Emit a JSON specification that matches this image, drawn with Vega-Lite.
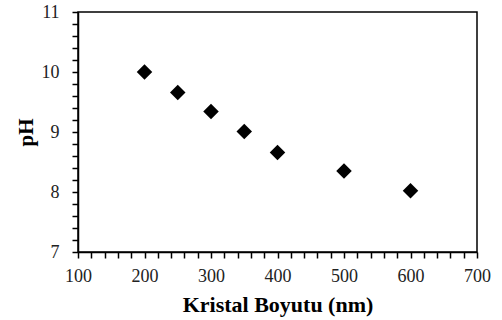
{
  "$schema": "https://vega.github.io/schema/vega-lite/v6.json",
  "width": 399,
  "height": 240,
  "autosize": {"type": "none"},
  "padding": {"left": 78, "top": 12, "right": 25, "bottom": 68},
  "background": "white",
  "config": {
    "view": {"stroke": "black", "strokeWidth": 1.5},
    "font": "Liberation Serif",
    "axis": {
      "grid": false,
      "domainColor": "black",
      "domainWidth": 1.5,
      "tickColor": "black",
      "tickWidth": 1.5,
      "tickSize": 6,
      "labelFont": "Liberation Serif",
      "labelFontSize": 18,
      "labelColor": "#222",
      "labelFlush": false,
      "labelOverlap": false,
      "titleFont": "Liberation Serif",
      "titleFontWeight": "bold",
      "titleColor": "black"
    }
  },
  "data": {
    "values": [
      {"size": 200, "pH": 10.0},
      {"size": 250, "pH": 9.66},
      {"size": 300, "pH": 9.34},
      {"size": 350, "pH": 9.01},
      {"size": 400, "pH": 8.66},
      {"size": 500, "pH": 8.35},
      {"size": 600, "pH": 8.02}
    ]
  },
  "mark": {"type": "point", "shape": "diamond", "filled": true, "color": "black", "size": 240, "opacity": 1},
  "encoding": {
    "x": {
      "field": "size",
      "type": "quantitative",
      "scale": {"domain": [100, 700], "nice": false, "zero": false},
      "axis": {
        "title": "Kristal Boyutu (nm)",
        "titleFontSize": 22,
        "values": [100,120,140,160,180,200,220,240,260,280,300,320,340,360,380,400,420,440,460,480,500,520,540,560,580,600,620,640,660,680,700],
        "labelExpr": "datum.value % 100 == 0 ? datum.label : ''",
        "labelPadding": 9,
        "titlePadding": 9
      }
    },
    "y": {
      "field": "pH",
      "type": "quantitative",
      "scale": {"domain": [7, 11], "nice": false, "zero": false},
      "axis": {
        "title": "pH",
        "titleFontSize": 21,
        "values": [7,7.2,7.4,7.6,7.8,8,8.2,8.4,8.6,8.8,9,9.2,9.4,9.6,9.8,10,10.2,10.4,10.6,10.8,11],
        "labelExpr": "abs(datum.value - round(datum.value)) < 0.01 ? '' + round(datum.value) : ''",
        "labelPadding": 13,
        "titlePadding": 5
      }
    }
  }
}
